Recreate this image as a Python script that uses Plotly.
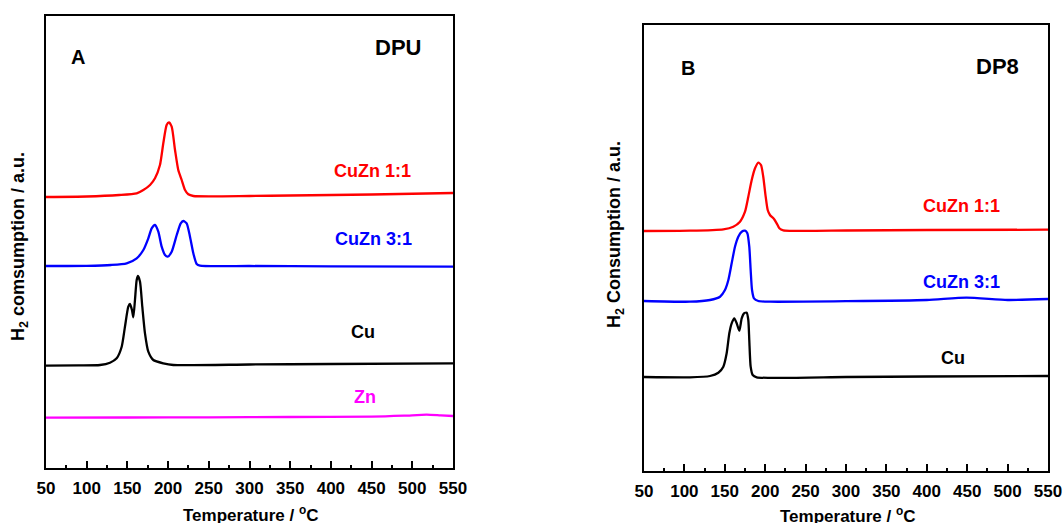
import plotly.graph_objects as go

# ---------------- Panel A (DPU) ----------------
a_red_T = [50, 100, 140, 161.4, 169.6, 177.8, 183.9, 190, 194.1, 198.2, 201, 204.4, 208.5, 212.5, 216.7, 220.8, 224.8, 231, 300, 350, 450, 550]
a_red_I = [271, 271.5, 273, 274.7, 278, 283, 289.7, 303, 324.7, 343, 345.7, 341.3, 318, 298, 288, 278, 273.7, 272, 272, 272.5, 273.5, 275]

a_blue_T = [50, 100, 130, 149.1, 161.4, 169.6, 175.7, 179.8, 183.9, 188, 192.1, 196.2, 199.5, 204.4, 210.6, 215.5, 218.7, 222.8, 226.9, 231, 235.1, 239.2, 300, 400, 550]
a_blue_I = [202, 202.2, 203, 204.7, 209.7, 218, 229.7, 239.7, 243, 236.3, 221.3, 213, 211.3, 216.3, 233, 244.7, 247, 244.7, 231.3, 214.7, 204, 202.3, 202, 201.6, 201.3]

a_cu_T = [50, 90, 116.3, 128.6, 136.8, 143, 147, 151.1, 153.2, 155.6, 157.3, 159.3, 161.4, 163, 165.5, 168.3, 171.6, 175.7, 181.8, 194.1, 206.4, 300, 400, 550]
a_cu_I = [102.3, 102.6, 103, 105.3, 109.7, 121.3, 141.3, 161.3, 164, 158, 150.7, 168, 188, 192, 186.3, 161.3, 134.7, 116.3, 108, 104.7, 103, 103.5, 104, 104.7]

a_zn_T = [50, 150, 250, 350, 450, 490, 517.6, 535, 550]
a_zn_I = [50.3, 50.5, 50.7, 51, 51.3, 52.3, 53.3, 52.6, 52]

# ---------------- Panel B (DP8) ----------------
b_red_T = [50, 106.9, 148.2, 160.5, 168.8, 175, 179.1, 183.3, 187.4, 191.5, 194.8, 197.6, 200.6, 203.1, 205.9, 210.9, 214.2, 217.5, 222.4, 300, 400, 550]
b_red_I = [240, 240.3, 241.7, 244.3, 249.3, 259.3, 274.3, 291, 302.7, 308.3, 306, 294.3, 274.3, 261, 256, 252, 247.7, 242.7, 240.7, 240.5, 241, 241.3]

b_blue_T = [50, 106.9, 131.7, 144.1, 150.2, 154.4, 158.5, 162.6, 166.7, 170.9, 175, 177.9, 180.3, 182, 183.7, 186.1, 191.5, 205.9, 300, 400, 449, 500, 550]
b_blue_I = [170, 169.3, 171, 174.3, 181, 191, 207.7, 224.3, 234.3, 239.3, 240.3, 237.7, 224.3, 201, 181, 172.7, 170, 169.3, 169.8, 171, 173.3, 171, 172]

b_cu_T = [50, 106.9, 131.7, 142, 148.2, 152.3, 155.6, 158.5, 161.8, 164.7, 168, 170.9, 173.8, 177.1, 179.1, 180.3, 182, 184.5, 189.5, 300, 400, 550]
b_cu_I = [94, 93.7, 95, 98.3, 104.3, 117.7, 137.7, 147.7, 152.7, 147.7, 140.3, 152.7, 157.7, 158.3, 151, 131, 104.3, 96, 93.7, 94, 94.5, 95]

x_ticks = [50, 100, 150, 200, 250, 300, 350, 400, 450, 500, 550]
x_tick_labels = [str(v) for v in x_ticks]

W, H = 1063, 523
FONT = "Arial, Liberation Sans, sans-serif"

fig = go.Figure()

def add(T, I, color, xa, ya):
    fig.add_trace(go.Scatter(x=T, y=I, mode="lines", xaxis=xa, yaxis=ya,
                             line=dict(color=color, width=2.3, shape="spline", smoothing=0.6),
                             showlegend=False, hoverinfo="skip"))

add(a_red_T, a_red_I, "#ff0000", "x", "y")
add(a_blue_T, a_blue_I, "#0000ff", "x", "y")
add(a_cu_T, a_cu_I, "#000000", "x", "y")
add(a_zn_T, a_zn_I, "#ff00ff", "x", "y")
add(b_red_T, b_red_I, "#ff0000", "x2", "y2")
add(b_blue_T, b_blue_I, "#0000ff", "x2", "y2")
add(b_cu_T, b_cu_I, "#000000", "x2", "y2")

def xaxis_cfg(dom, anchor):
    return dict(domain=dom, anchor=anchor, range=[50, 550], tickmode="array",
                tickvals=x_ticks, ticktext=x_tick_labels, ticks="inside", ticklen=7,
                tickwidth=1.5, tickcolor="black", showline=True, linecolor="black",
                linewidth=1.8, mirror=True, showgrid=False, zeroline=False,
                ticklabelstandoff=4,
                tickfont=dict(family=FONT, size=17, color="black", weight="bold"),
                minor=dict(dtick=25, tick0=75, ticks="inside", ticklen=3, tickwidth=1.5,
                           tickcolor="black", showgrid=False),
                automargin=False, fixedrange=True)

def yaxis_cfg(dom, anchor, top):
    return dict(domain=dom, anchor=anchor, range=[0, top], showticklabels=False,
                ticks="", showline=True, linecolor="black", linewidth=1.8, mirror=True,
                showgrid=False, zeroline=False, automargin=False, fixedrange=True)

def xd(p0, p1):
    return [p0 / W, p1 / W]

def yd(top, bot):
    return [1 - bot / H, 1 - top / H]

fig.update_layout(
    width=W, height=H, margin=dict(l=0, r=0, t=0, b=0),
    paper_bgcolor="white", plot_bgcolor="white",
    xaxis=xaxis_cfg(xd(46, 453), "y"), yaxis=yaxis_cfg(yd(16, 468), "x", 452),
    xaxis2=xaxis_cfg(xd(644, 1048), "y2"), yaxis2=yaxis_cfg(yd(25, 471), "x2", 446),
)

def ann(px, py, text, color="black", size=16, angle=0):
    fig.add_annotation(x=px / W, y=1 - py / H, xref="paper", yref="paper",
                       text=text, showarrow=False, textangle=angle,
                       xanchor="center", yanchor="middle",
                       font=dict(family=FONT, size=size, color=color, weight="bold"))

# Panel A labels
ann(78, 57, "A", size=20)
ann(398, 48, "DPU", size=22)
ann(372, 171, "CuZn 1:1", "#ff0000", 18)
ann(373, 239, "CuZn 3:1", "#0000ff", 18)
ann(363, 332, "Cu", "black", 18)
ann(365, 397, "Zn", "#ff00ff", 18)
ann(250, 514, "Temperature / <sup>o</sup>C", size=17)
ann(19, 247, "H<sub>2</sub> comsumption / a.u.", size=18, angle=-90)

# Panel B labels
ann(688, 68, "B", size=20)
ann(997, 66, "DP8", size=22)
ann(961, 206, "CuZn 1:1", "#ff0000", 18)
ann(961, 282, "CuZn 3:1", "#0000ff", 18)
ann(953, 358, "Cu", "black", 18)
ann(847, 515, "Temperature / <sup>o</sup>C", size=17)
ann(615, 235, "H<sub>2</sub> Consumption / a.u.", size=18, angle=-90)

fig.write_html("out.html", config={"displayModeBar": False},
               post_script="document.body.style.margin='0';document.body.style.overflow='hidden';")
